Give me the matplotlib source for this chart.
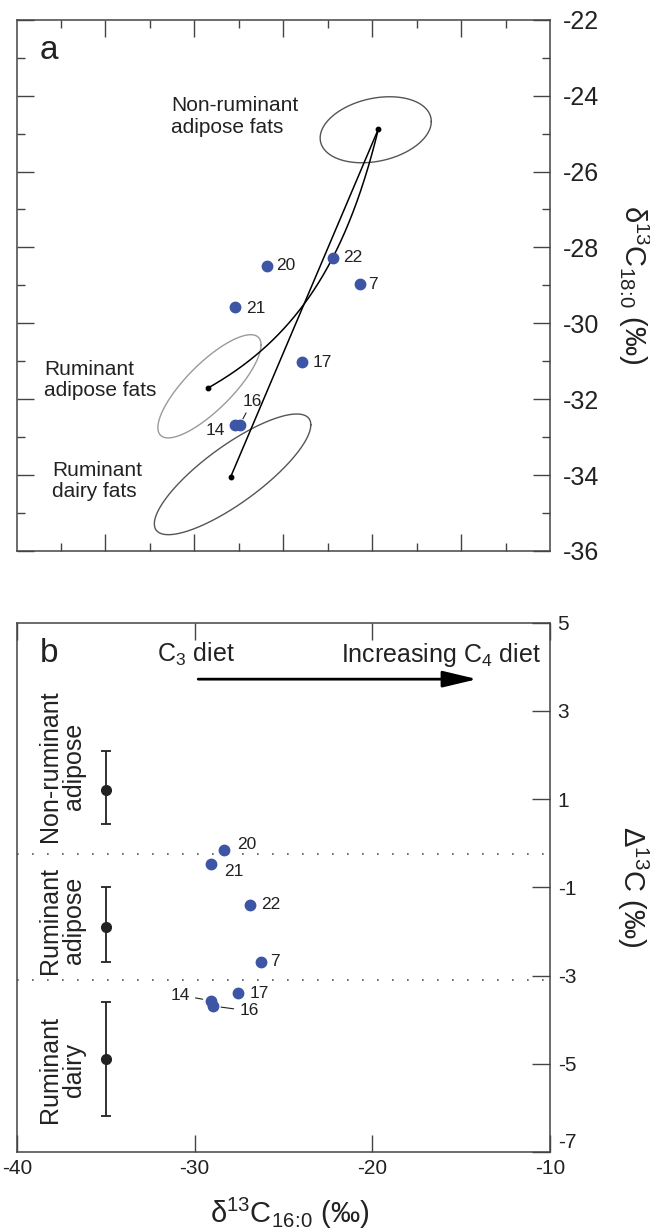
import numpy as np
import matplotlib
matplotlib.use("Agg")
import matplotlib.pyplot as plt

plt.rcParams['font.family'] = ['Liberation Sans', 'DejaVu Sans']
plt.rcParams['mathtext.fontset'] = 'custom'
plt.rcParams['mathtext.rm'] = 'Liberation Sans'
plt.rcParams['mathtext.it'] = 'Liberation Sans:italic'
plt.rcParams['mathtext.bf'] = 'Liberation Sans:bold'
plt.rcParams['axes.unicode_minus'] = False

# ---------------- data ----------------
sample_ids = ['20', '21', '22', '7', '17', '14', '16']
d13c_16 = [-28.37, -29.08, -26.88, -26.28, -27.58, -29.09, -28.98]   # panel a x / panel b x
d13c_18 = [-28.48, -29.57, -28.27, -28.97, -31.02, -32.67, -32.68]   # panel a y
big_delta = [-0.15, -0.48, -1.39, -2.69, -3.40, -3.57, -3.69]        # panel b y

# reference fat groups (panel a): centre, half-ranges, correlation
ref_names = ['Non-ruminant adipose', 'Ruminant adipose', 'Ruminant dairy']
ref_cx = [-25.92, -29.66, -29.14]
ref_cy = [-24.90, -31.66, -33.98]
ref_rx = [1.25, 1.16, 1.76]
ref_ry = [0.87, 1.36, 1.59]
ref_rho = [0.25, 0.80, 0.82]
# end-member means used for mixing curves
em_x = [-25.86, -29.70, -29.18]
em_y = [-24.88, -31.71, -34.04]
# concentration ratio (18:0 vs 16:0) for mixing towards each ruminant end-member
mix_ratio = [2.7, 1.0]

# panel b reference ranges
grp_x = [-35.0, -35.0, -35.0]
grp_mean = [1.21, -1.89, -4.89]
grp_low = [0.43, -2.69, -6.19]
grp_high = [2.09, -1.00, -3.60]
grp_labels = ['Non-ruminant\nadipose', 'Ruminant\nadipose', 'Ruminant\ndairy']
boundaries = [-0.25, -3.10]

BLUE = '#3d55a5'
DARK = '#222222'
SPINE = '#444444'

fig = plt.figure(figsize=(6.5, 12.29), dpi=100)
axa = fig.add_axes([16.5 / 650, 1 - 551 / 1229, (550 - 16.5) / 650, (551 - 19.7) / 1229])
axb = fig.add_axes([17 / 650, 1 - 1152 / 1229, (550 - 17) / 650, (1152 - 622.7) / 1229])

for ax in (axa, axb):
    for s in ax.spines.values():
        s.set_color(SPINE)
        s.set_linewidth(1.1)

# ---------------- panel a ----------------
axa.set_xlim(-34, -22)
axa.set_ylim(-36, -22)
axa.set_xticks(np.arange(-32, -23, 2))
axa.set_xticks(np.arange(-33, -22, 2), minor=True)
axa.set_yticks(np.arange(-36, -21, 2))
axa.set_yticks(np.arange(-35, -22, 2), minor=True)
axa.tick_params(which='both', direction='in', top=True, bottom=True, left=True, right=True,
                labelleft=False, labelbottom=False, labelright=True, color=SPINE, width=1.0)
axa.tick_params(which='major', length=12, labelsize=18, pad=9, labelcolor=DARK)
axa.tick_params(which='minor', length=6)

t = np.linspace(0, 2 * np.pi, 300)
ell_colors = ['#555555', '#9a9a9a', '#555555']
for cx, cy, rx, ry, rho, c in zip(ref_cx, ref_cy, ref_rx, ref_ry, ref_rho, ell_colors):
    ex = cx + rx * np.cos(t)
    ey = cy + ry * (rho * np.cos(t) + np.sqrt(1 - rho ** 2) * np.sin(t))
    axa.plot(ex, ey, color=c, lw=1.0)

s = np.linspace(0, 1, 300)
for k, R in enumerate(mix_ratio):
    xb, yb = em_x[k + 1], em_y[k + 1]
    uy = R * s / (1 - s + R * s)
    mx = em_x[0] + (xb - em_x[0]) * s
    my = em_y[0] + (yb - em_y[0]) * uy
    axa.plot(mx, my, color='black', lw=1.1)
axa.plot(em_x, em_y, 'o', color='black', ms=3.2)

axa.plot(d13c_16, d13c_18, 'o', color=BLUE, ms=7.5, mec=BLUE, zorder=5)
off_a = {'20': (7, 0, 'left'), '22': (7.5, 0, 'left'), '7': (6, 0, 'left'),
         '21': (7.5, -1, 'left'), '17': (7.5, 0, 'left'), '14': (-7, -4, 'right'),
         '16': (2, 17, 'left')}
for sid, x, y in zip(sample_ids, d13c_16, d13c_18):
    dx, dy, ha = off_a[sid]
    if sid == '16':
        axa.annotate(sid, (x, y), xytext=(dx, dy), textcoords='offset points', ha=ha, va='center',
                     fontsize=12.5, color=DARK,
                     arrowprops=dict(arrowstyle='-', lw=0.8, color=DARK, shrinkA=1, shrinkB=5))
    else:
        axa.annotate(sid, (x, y), xytext=(dx, dy), textcoords='offset points', ha=ha, va='center',
                     fontsize=12.5, color=DARK)

axa.text(-33.47, -23.04, 'a', fontsize=24, color=DARK, ha='left', va='baseline')
axa.text(-30.52, -24.55, 'Non-ruminant\nadipose fats', fontsize=15, color=DARK, ha='left',
         va='center', linespacing=1.15)
axa.text(-33.38, -31.5, 'Ruminant\nadipose fats', fontsize=15, color=DARK, ha='left',
         va='center', linespacing=1.15)
axa.text(-33.2, -34.15, 'Ruminant\ndairy fats', fontsize=15, color=DARK, ha='left',
         va='center', linespacing=1.15)

# ---------------- panel b ----------------
axb.set_xlim(-40, -10)
axb.set_ylim(-7, 5)
axb.set_xticks([-40, -30, -20, -10])
axb.set_yticks([-7, -5, -3, -1, 1, 3, 5])
axb.tick_params(which='both', direction='in', top=True, bottom=True, left=False, right=True,
                labelleft=False, labelright=True, color=SPINE, width=1.0, labelcolor=DARK)
axb.tick_params(axis='x', length=12, labelsize=15, pad=5)
axb.tick_params(axis='y', length=13, labelsize=15, pad=5.5)
for lab in axb.get_yticklabels():
    if lab.get_text() == '-7':
        lab.set_va('bottom')

for b in boundaries:
    axb.axhline(b, color='#555555', lw=1.2, ls=(0, (1, 8)))

yerr = [np.array(grp_mean) - np.array(grp_low), np.array(grp_high) - np.array(grp_mean)]
axb.errorbar(grp_x, grp_mean, yerr=yerr, fmt='o', color=DARK, ms=7, capsize=3.5,
             elinewidth=1.3, capthick=1.3)

lab_y = [1.75, -1.76, -5.14]
for ly, txt in zip(lab_y, grp_labels):
    axb.text(-37.45, ly, txt, rotation=90, fontsize=18, color=DARK, ha='center', va='center',
             linespacing=1.0, multialignment='center')

axb.plot(d13c_16, big_delta, 'o', color=BLUE, ms=7.5, mec=BLUE, zorder=5)
off_b = {'20': (10, 4, 'left'), '21': (9.5, -5, 'left'), '22': (8, 0, 'left'),
         '7': (7, 0, 'left'), '17': (8.5, 0, 'left'), '14': (-15, 4, 'right'),
         '16': (19, -3.5, 'left')}
for sid, x, y in zip(sample_ids, d13c_16, big_delta):
    dx, dy, ha = off_b[sid]
    if sid in ('14', '16'):
        axb.annotate(sid, (x, y), xytext=(dx, dy), textcoords='offset points', ha=ha, va='center',
                     fontsize=12.5, color=DARK,
                     arrowprops=dict(arrowstyle='-', lw=0.8, color=DARK, shrinkA=2, shrinkB=6))
    else:
        axb.annotate(sid, (x, y), xytext=(dx, dy), textcoords='offset points', ha=ha, va='center',
                     fontsize=12.5, color=DARK)

axb.text(-38.7, 4.12, 'b', fontsize=24, color=DARK, ha='left', va='baseline')
axb.text(-32.1, 4.12, r'C$_{\mathregular{3}}$ diet', fontsize=18, color=DARK, ha='left', va='baseline')
axb.text(-10.5, 4.12, r'Increasing C$_{\mathregular{4}}$ diet', fontsize=18, color=DARK,
         ha='right', va='baseline')
axb.annotate('', xy=(-14.1, 3.72), xytext=(-29.8, 3.72),
             arrowprops=dict(arrowstyle='-|>,head_length=2.1,head_width=0.5', lw=2.0,
                             color='black', shrinkA=0, shrinkB=0))

# axis labels
fig.text(634 / 650, 1 - 285 / 1229, r'δ$^{\mathregular{13}}$C$_{\mathregular{18\!:\!0}}$ (‰)',
         rotation=270, ha='center', va='center', fontsize=21, color=DARK)
fig.text(633 / 650, 1 - 887 / 1229, r'Δ$^{\mathregular{13}}$C (‰)',
         rotation=270, ha='center', va='center', fontsize=21, color=DARK)
fig.text(290 / 650, 1 - 1213 / 1229, r'δ$^{\mathregular{13}}$C$_{\mathregular{16\!:\!0}}$ (‰)',
         ha='center', va='center', fontsize=21, color=DARK)

fig.savefig('out.png', dpi=100)
